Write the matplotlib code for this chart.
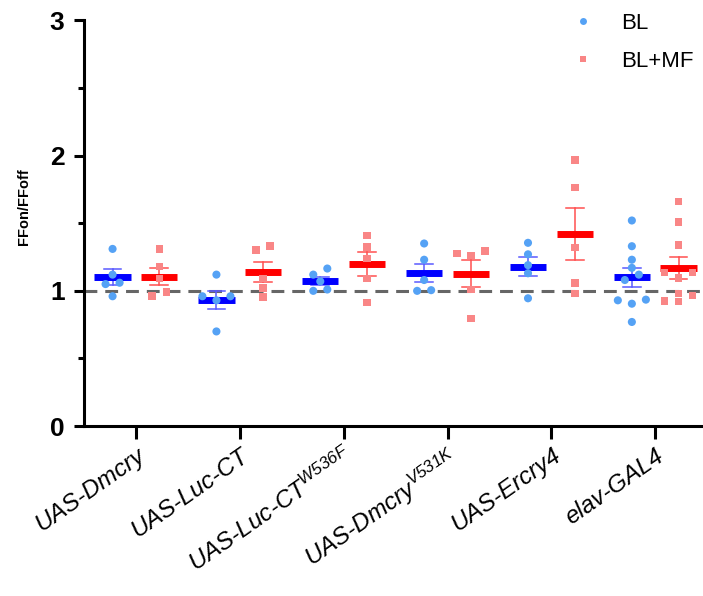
import numpy as np
import matplotlib
matplotlib.use("Agg")
import matplotlib.pyplot as plt
from matplotlib.lines import Line2D

plt.rcParams['font.family'] = ['Liberation Sans', 'DejaVu Sans']
plt.rcParams['mathtext.fontset'] = 'custom'
plt.rcParams['mathtext.rm'] = 'Liberation Sans:italic'
plt.rcParams['mathtext.it'] = 'Liberation Sans:italic'
plt.rcParams['mathtext.bf'] = 'Liberation Sans:italic:bold'

groups = ['UAS-Dmcry', 'UAS-Luc-CT', 'UAS-Luc-CT$^{W536F}$',
          'UAS-Dmcry$^{V531K}$', 'UAS-Ercry4', 'elav-GAL4']
series_names = ['BL', 'BL+MF']

bl_values = [
    [1.31, 1.12, 1.06, 1.05, 0.96],
    [1.12, 0.96, 0.96, 0.93, 0.70],
    [1.165, 1.12, 1.07, 1.01, 1.00],
    [1.35, 1.23, 1.08, 1.005, 1.00],
    [1.355, 1.27, 1.19, 1.13, 0.945],
    [1.52, 1.33, 1.23, 1.17, 1.08, 1.12, 0.935, 0.93, 0.905, 0.77],
]
mf_values = [
    [1.31, 1.18, 1.09, 0.96, 0.99],
    [1.33, 1.30, 1.09, 1.02, 0.955],
    [1.41, 1.325, 1.24, 1.09, 0.915],
    [1.295, 1.275, 1.26, 1.01, 0.795],
    [1.965, 1.765, 1.32, 1.06, 0.98],
    [1.66, 1.51, 1.34, 1.135, 1.135, 1.095, 0.98, 0.965, 0.925, 0.92],
]
reference_level = 1.0

pt_colors = ['#55a2f5', '#f98686']
mean_colors = ['#0000ff', '#ff0000']
err_colors = ['#5a5aff', '#ff5050']
markers = ['o', 's']


def row_offsets(vals, thresh=0.045, spacing=0.135):
    vals = np.asarray(vals, dtype=float)
    order = np.argsort(vals)
    offs = np.zeros(len(vals))
    rows = []
    cur = []
    for idx in order:
        if cur and vals[idx] - vals[cur[0]] > thresh:
            rows.append(cur)
            cur = []
        cur.append(idx)
    if cur:
        rows.append(cur)
    for r in rows:
        n = len(r)
        pos = [(k - (n - 1) / 2) * spacing for k in range(n)]
        pos_sorted = sorted(pos, key=lambda p: (abs(p), p))
        for idx, p in zip(r, pos_sorted):
            offs[idx] = p
    return offs


fig = plt.figure(figsize=(7.03, 5.96), dpi=100)
ax = fig.add_axes([0.1195, 0.285, 0.8805, 0.681])

x = np.arange(len(groups))
pair_off = 0.225

ax.axhline(reference_level, color='#666666', lw=2.2, dashes=(4.2, 2.6), zorder=1)

for s, data in enumerate([bl_values, mf_values]):
    for g, vals in enumerate(data):
        cx = x[g] + (-pair_off if s == 0 else pair_off)
        v = np.asarray(vals)
        m = v.mean()
        sem = v.std(ddof=1) / np.sqrt(len(v))
        ax.plot([cx, cx], [m - sem, m + sem], color=err_colors[s], lw=1.1, zorder=2)
        for yy in (m - sem, m + sem):
            ax.plot([cx - 0.085, cx + 0.085], [yy, yy], color=err_colors[s], lw=1.1, zorder=2)
        ax.plot([cx - 0.175, cx + 0.175], [m, m], color=mean_colors[s], lw=5.0,
                solid_capstyle='butt', zorder=3)
        offs = row_offsets(vals)
        ax.scatter(cx + offs, v, s=34 if s == 0 else 30, marker=markers[s],
                   color=pt_colors[s], edgecolors='none', zorder=4)

ax.set_xlim(-0.5, 5.46)
ax.set_ylim(0, 3)
ax.set_yticks([0, 1, 2, 3])
ax.set_yticks([0.5, 1.5, 2.5], minor=True)
ax.set_yticklabels(['0', '1', '2', '3'], fontsize=19, fontweight='bold')
ax.set_xticks(x)
ax.set_xticklabels(groups, fontsize=17.5, fontstyle='italic', rotation=35,
                   ha='right', va='top', rotation_mode='anchor')
ax.tick_params(axis='x', length=9, width=2.2, pad=4)
ax.tick_params(axis='y', which='major', length=7, width=2.2, pad=7)
ax.tick_params(axis='y', which='minor', length=4.5, width=2.2)
for sp in ['top', 'right']:
    ax.spines[sp].set_visible(False)
for sp in ['left', 'bottom']:
    ax.spines[sp].set_linewidth(2.2)
ax.set_ylabel('FFon/FFoff', fontsize=10.5, fontweight='bold')
ax.yaxis.set_label_coords(-0.085, 0.54)

handles = [Line2D([], [], ls='none', marker=markers[i], color=pt_colors[i],
                  markersize=5, markeredgewidth=0) for i in range(2)]
fig.legend(handles, series_names, loc='upper left', bbox_to_anchor=(0.785, 1.012),
           frameon=False, fontsize=16, handlelength=1.0, handletextpad=1.2,
           labelspacing=0.75)

fig.savefig('out.png', dpi=100)
